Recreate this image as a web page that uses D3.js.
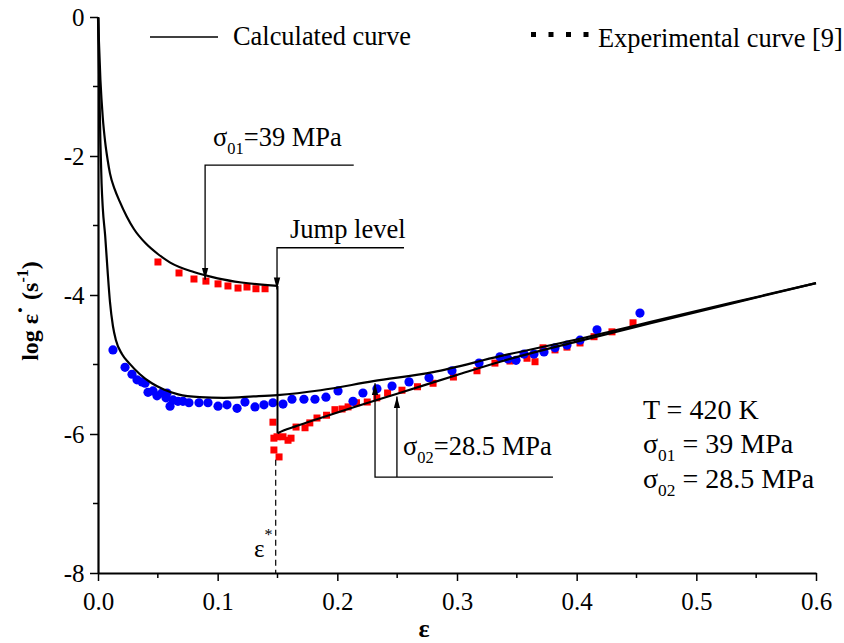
<!doctype html>
<html lang="en">
<head>
<meta charset="UTF-8">
<title>log strain rate vs strain</title>
<script src="https://cdn.jsdelivr.net/npm/d3@7"></script>
<style>
  body { margin: 0; background: #fff; }
  svg text { font-family: "Liberation Serif", "Times New Roman", serif; fill: #000; }
</style>
</head>
<body>
<div id="chart"></div>
<script>
// calculated curve, sigma01 = 39 MPa (up to the jump)
const calcUpper = [
  [0, 0], [0.002, -0.9], [0.004, -1.45], [0.006, -1.8], [0.008, -2.05], [0.01, -2.25],
  [0.014, -2.48], [0.018, -2.65], [0.024, -2.87], [0.03, -3.05], [0.04, -3.26],
  [0.05, -3.41], [0.06, -3.53], [0.08, -3.67], [0.10, -3.76], [0.12, -3.82], [0.15, -3.87]
];
// calculated curve, sigma02 = 28.5 MPa from the start
const calcLower = [
  [0, 0], [0.001, -0.9], [0.002, -1.8], [0.003, -2.4], [0.004, -2.75], [0.006, -3.15],
  [0.008, -3.65], [0.01, -4.1], [0.0125, -4.45], [0.015, -4.65], [0.02, -4.85],
  [0.026, -4.98], [0.035, -5.14], [0.045, -5.27], [0.055, -5.36], [0.067, -5.43],
  [0.085, -5.47], [0.105, -5.48], [0.13, -5.46], [0.15, -5.44], [0.186, -5.37],
  [0.23, -5.24], [0.28, -5.11], [0.336, -4.88], [0.4, -4.64], [0.461, -4.39],
  [0.53, -4.11], [0.6, -3.83]
];
// calculated curve after the stress jump
const calcJump = [
  [0.15, -3.87], [0.15, -5.99], [0.155, -5.95], [0.165, -5.89], [0.175, -5.83],
  [0.186, -5.77], [0.2, -5.69], [0.233, -5.51], [0.25, -5.42], [0.3, -5.15],
  [0.336, -4.96], [0.4, -4.67], [0.461, -4.41], [0.53, -4.12], [0.6, -3.83]
];
// experimental, red squares
const expRed = [
  [0.0501, -3.525], [0.0677, -3.683], [0.0802, -3.77], [0.0902, -3.80], [0.1003, -3.84],
  [0.1086, -3.87], [0.117, -3.90], [0.1245, -3.885], [0.132, -3.91], [0.1396, -3.91],
  [0.1462, -5.83], [0.147, -6.06], [0.1496, -6.04], [0.147, -6.23], [0.1513, -6.33],
  [0.1546, -6.04], [0.1588, -6.09], [0.1613, -6.06], [0.1655, -5.90], [0.173, -5.91],
  [0.177, -5.84], [0.183, -5.77], [0.191, -5.73], [0.198, -5.65], [0.204, -5.64],
  [0.209, -5.61], [0.216, -5.55], [0.225, -5.54], [0.233, -5.48], [0.242, -5.41],
  [0.254, -5.37], [0.267, -5.32], [0.280, -5.27], [0.297, -5.18], [0.3167, -5.09],
  [0.3317, -4.98], [0.3443, -4.95], [0.3585, -4.91], [0.3652, -4.96], [0.3719, -4.76],
  [0.3819, -4.79], [0.3919, -4.75], [0.4028, -4.69], [0.4145, -4.60], [0.4295, -4.53],
  [0.4471, -4.40]
];
// experimental, blue circles
const expBlue = [
  [0.0125, -4.79], [0.0226, -5.04], [0.0284, -5.14], [0.0326, -5.22], [0.0368, -5.25],
  [0.0393, -5.27], [0.0418, -5.40], [0.046, -5.38], [0.0493, -5.45], [0.0535, -5.41],
  [0.0568, -5.48], [0.0577, -5.41], [0.0602, -5.60], [0.0627, -5.51], [0.0668, -5.53],
  [0.071, -5.53], [0.076, -5.55], [0.0844, -5.55], [0.0919, -5.55], [0.1003, -5.60],
  [0.1078, -5.58], [0.1162, -5.63], [0.1228, -5.54], [0.1312, -5.61], [0.1387, -5.58],
  [0.1462, -5.55], [0.1546, -5.57], [0.1621, -5.50], [0.1721, -5.50], [0.1813, -5.50],
  [0.1905, -5.47], [0.2006, -5.38], [0.2131, -5.53], [0.2214, -5.41], [0.2331, -5.35],
  [0.2457, -5.31], [0.2599, -5.25], [0.2766, -5.19], [0.2958, -5.09], [0.3184, -4.98],
  [0.3359, -4.89], [0.3426, -4.92], [0.3493, -4.94], [0.356, -4.85], [0.3643, -4.85],
  [0.3727, -4.82], [0.3819, -4.76], [0.3919, -4.72], [0.4028, -4.65], [0.417, -4.50],
  [0.4529, -4.26]
];
const xTicks = [0, 0.1, 0.2, 0.3, 0.4, 0.5, 0.6];
const xMinor = [0.05, 0.15, 0.25, 0.35, 0.45, 0.55];
const yTicks = [0, -2, -4, -6, -8];
const yMinor = [-1, -3, -5, -7];
const jumpStrain = 0.1485;

const width = 844, height = 643;
const svg = d3.select('#chart').append('svg')
  .attr('width', width).attr('height', height);

const x = d3.scaleLinear().domain([0, 0.6]).range([98, 816]);
const y = d3.scaleLinear().domain([-8, 0]).range([573, 17]);

const defs = svg.append('defs');
defs.append('marker')
  .attr('id', 'arrow').attr('viewBox', '0 0 12 8')
  .attr('refX', 12).attr('refY', 4)
  .attr('markerWidth', 12).attr('markerHeight', 8)
  .attr('markerUnits', 'userSpaceOnUse').attr('orient', 'auto')
  .append('path').attr('d', 'M0,0.8 L12,4 L0,7.2 Z').attr('fill', '#000');

// experimental points
svg.append('g').selectAll('rect').data(expRed).join('rect')
  .attr('x', d => x(d[0]) - 3.5).attr('y', d => y(d[1]) - 3.5)
  .attr('width', 7).attr('height', 7).attr('fill', '#ff0000');

svg.append('g').selectAll('circle').data(expBlue).join('circle')
  .attr('cx', d => x(d[0])).attr('cy', d => y(d[1]))
  .attr('r', 4.6).attr('fill', '#0000ff');

// calculated curves
const line = d3.line().x(d => x(d[0])).y(d => y(d[1])).curve(d3.curveMonotoneX);
const lineStraight = d3.line().x(d => x(d[0])).y(d => y(d[1]));
[calcUpper, calcLower].forEach(c => {
  svg.append('path').datum(c).attr('d', line)
    .attr('fill', 'none').attr('stroke', '#000').attr('stroke-width', 2.2);
});
// jump: vertical drop then curve
svg.append('path').datum(calcJump.slice(0, 2)).attr('d', lineStraight)
  .attr('fill', 'none').attr('stroke', '#000').attr('stroke-width', 2);
svg.append('path').datum(calcJump.slice(1)).attr('d', line)
  .attr('fill', 'none').attr('stroke', '#000').attr('stroke-width', 2.2);

// dashed line at eps*
svg.append('line')
  .attr('x1', x(jumpStrain)).attr('x2', x(jumpStrain))
  .attr('y1', y(-6.37)).attr('y2', y(-8))
  .attr('stroke', '#000').attr('stroke-width', 1.2).attr('stroke-dasharray', '6,4');

// axes
const xAxis = d3.axisBottom(x).tickValues(xTicks).tickFormat(d3.format('.1f')).tickSize(8).tickSizeOuter(0);
const gx = svg.append('g').attr('transform', `translate(0,${y(-8)})`).call(xAxis);
gx.append('g').selectAll('line').data(xMinor).join('line')
  .attr('x1', d => x(d)).attr('x2', d => x(d)).attr('y1', 0).attr('y2', 5)
  .attr('stroke', '#000').attr('stroke-width', 1.5);
const yAxis = d3.axisLeft(y).tickValues(yTicks).tickFormat(d3.format('d')).tickSize(8).tickSizeOuter(0);
const gy = svg.append('g').attr('transform', `translate(${x(0)},0)`).call(yAxis);
gy.append('g').selectAll('line').data(yMinor).join('line')
  .attr('x1', 0).attr('x2', -5).attr('y1', d => y(d)).attr('y2', d => y(d))
  .attr('stroke', '#000').attr('stroke-width', 1.5);
[gx, gy].forEach(g => {
  g.select('.domain').attr('stroke-width', 2.2);
  g.selectAll('.tick line').attr('stroke-width', 1.5);
  g.selectAll('.tick text').style('font-family', '"Liberation Serif", serif').style('font-size', '25px');
});
gx.selectAll('.tick text').attr('dy', '1.05em');
gy.selectAll('.tick text').attr('dx', '-0.1em').text(d => d === 0 ? '0' : '-' + Math.abs(d));

// axis titles
svg.append('text').attr('x', 424).attr('y', 637).attr('text-anchor', 'middle')
  .style('font-size', '26px').style('font-weight', 'bold').text('ε');
const yt = svg.append('text').attr('transform', 'translate(38,311) rotate(-90)')
  .attr('text-anchor', 'middle').style('font-size', '24px').style('font-weight', 'bold');
yt.append('tspan').text('log ε');
yt.append('tspan').attr('dy', -10).text('·');
yt.append('tspan').attr('dy', 10).text(' (s');
yt.append('tspan').attr('dy', -10).style('font-size', '16px').text('-1');
yt.append('tspan').attr('dy', 10).text(')');

// legend
svg.append('line').attr('x1', 150).attr('x2', 218).attr('y1', 37).attr('y2', 37)
  .attr('stroke', '#000').attr('stroke-width', 1.5);
svg.append('text').attr('x', 233).attr('y', 45).style('font-size', '26.4px').text('Calculated curve');
svg.append('g').selectAll('rect').data([0, 1, 2, 3]).join('rect')
  .attr('x', d => 531 + d * 17.5).attr('y', 32).attr('width', 5).attr('height', 5).attr('fill', '#000');
svg.append('text').attr('x', 598).attr('y', 47).style('font-size', '26.4px').text('Experimental curve [9]');

// annotation helper
function sigmaText(xp, yp, sub, rest, size) {
  const t = svg.append('text').attr('x', xp).attr('y', yp).style('font-size', size + 'px');
  t.append('tspan').text('σ');
  t.append('tspan').attr('dy', 8).style('font-size', (size * 0.62) + 'px').text(sub);
  t.append('tspan').attr('dy', -8).text(rest);
}
function leader(points) {
  svg.append('path').datum(points).attr('d', lineStraight)
    .attr('fill', 'none').attr('stroke', '#000').attr('stroke-width', 1.3)
    .attr('marker-end', 'url(#arrow)');
}

// sigma01 callout
sigmaText(213, 146, '01', '=39 MPa', 26.5);
leader([[0.2137, -2.13], [0.0895, -2.13], [0.0895, -3.78]]);

// jump level callout
svg.append('text').attr('x', 290).attr('y', 238).style('font-size', '26.5px').text('Jump level');
leader([[0.2557, -3.32], [0.1496, -3.32], [0.1496, -3.92]]);

// sigma02 callout
sigmaText(403, 455, '02', '=28.5 MPa', 26.5);
leader([[0.3802, -6.62], [0.2315, -6.62], [0.2315, -5.27]]);
leader([[0.2498, -6.62], [0.2498, -5.46]]);

// eps* label
const es = svg.append('text').attr('x', 254).attr('y', 557).style('font-size', '25px');
es.append('tspan').text('ε');
es.append('tspan').attr('dy', -17).style('font-size', '16px').text('*');

// conditions
svg.append('text').attr('x', 643).attr('y', 419).style('font-size', '28px').text('T = 420 K');
sigmaText(643, 453, '01', ' = 39 MPa', 28);
sigmaText(643, 488, '02', ' = 28.5 MPa', 28);
</script>
</body>
</html>
